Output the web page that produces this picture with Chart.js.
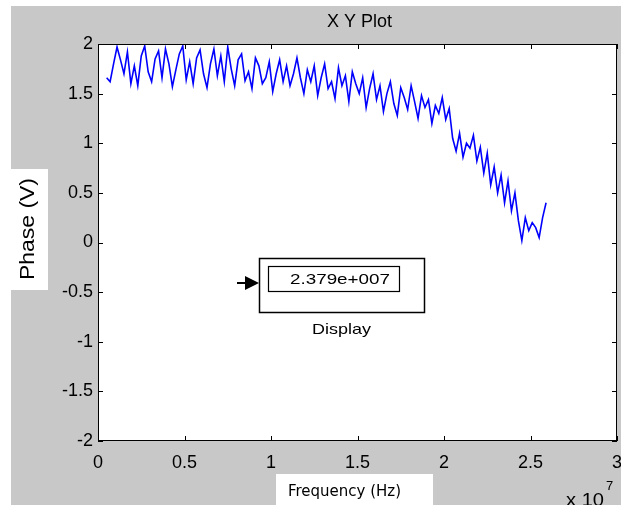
<!DOCTYPE html>
<html>
<head>
<meta charset="utf-8">
<title>X Y Plot</title>
<script src="https://cdn.jsdelivr.net/npm/chart.js@4.4.1/dist/chart.umd.min.js"></script>
<style>
  body { margin: 0; background: #ffffff; }
  canvas { display: block; }
</style>
</head>
<body>
<canvas id="myChart" width="621" height="505"></canvas>
<script>
// frequency in units of 1e7 Hz (axis shows "x 10^7")
const freq = [
  0.05,0.07,0.09,0.11,0.13,0.15,0.17,0.19,0.21,0.23,
  0.25,0.27,0.29,0.31,0.33,0.35,0.37,0.39,0.41,0.43,
  0.45,0.47,0.49,0.51,0.53,0.55,0.57,0.59,0.61,0.63,
  0.65,0.67,0.69,0.71,0.73,0.75,0.77,0.79,0.81,0.83,
  0.85,0.87,0.89,0.91,0.93,0.95,0.97,0.99,1.01,1.03,
  1.05,1.07,1.09,1.11,1.13,1.15,1.17,1.19,1.21,1.23,
  1.25,1.27,1.29,1.31,1.33,1.35,1.37,1.39,1.41,1.43,
  1.45,1.47,1.49,1.51,1.53,1.55,1.57,1.59,1.61,1.63,
  1.65,1.67,1.69,1.71,1.73,1.75,1.77,1.79,1.81,1.83,
  1.85,1.87,1.89,1.91,1.93,1.95,1.97,1.99,2.01,2.03,
  2.05,2.07,2.09,2.11,2.13,2.15,2.17,2.19,2.21,2.23,
  2.25,2.27,2.29,2.31,2.33,2.35,2.37,2.39,2.41,2.43,
  2.45,2.47,2.49,2.51,2.53,2.55,2.57,2.59
];

const phase = [
  1.66,1.62,1.80,1.97,1.84,1.70,1.92,1.60,1.78,1.58,
  1.88,1.98,1.72,1.62,1.85,1.93,1.66,1.95,1.80,1.57,
  1.74,1.90,1.98,1.64,1.82,1.60,1.86,1.94,1.70,1.56,
  1.80,1.95,1.68,1.88,1.62,1.97,1.75,1.58,1.84,1.90,
  1.63,1.72,1.55,1.86,1.78,1.60,1.66,1.82,1.52,1.70,
  1.84,1.62,1.78,1.58,1.70,1.86,1.66,1.50,1.74,1.62,
  1.78,1.48,1.66,1.80,1.55,1.62,1.45,1.76,1.58,1.68,
  1.42,1.72,1.60,1.50,1.66,1.36,1.55,1.70,1.44,1.58,
  1.32,1.50,1.62,1.40,1.28,1.56,1.46,1.34,1.58,1.42,
  1.25,1.48,1.36,1.44,1.20,1.38,1.30,1.46,1.24,1.35,
  1.05,0.92,1.10,0.86,1.00,0.95,1.08,0.82,0.96,0.70,
  0.90,0.58,0.76,0.50,0.68,0.40,0.62,0.32,0.50,0.22,
  0.02,0.25,0.12,0.20,0.15,0.05,0.25,0.40
];

const xTicks = [0, 0.5, 1, 1.5, 2, 2.5, 3];
const yTicks = [-2, -1.5, -1, -0.5, 0, 0.5, 1, 1.5, 2];

const titleText = "X Y Plot";
const xLabel = "Frequency (Hz)";
const yLabel = "Phase (V)";
const displayValue = "2.379e+007";

const GRAY = "#c8c8c8";

// draw text stretched/squeezed to a given width
let fitText = (ctx, text, x, y, w) => {
  let m = ctx.measureText(text).width;
  ctx.save();
  ctx.translate(x, y);
  ctx.scale(w / m, 1);
  ctx.textAlign = "left";
  ctx.fillText(text, 0, 0);
  ctx.restore();
};

const backdrop = {
  id: "backdrop",
  beforeDraw: (chart) => {
    const ctx = chart.ctx;
    const a = chart.chartArea;
    ctx.save();
    ctx.fillStyle = "#ffffff";
    ctx.fillRect(0, 0, chart.width, chart.height);
    ctx.fillStyle = GRAY;
    ctx.fillRect(11, 6, chart.width - 11, chart.height - 6);
    ctx.fillStyle = "#ffffff";
    ctx.fillRect(a.left, a.top, a.right - a.left, a.bottom - a.top);
    ctx.restore();
  },
  afterDraw: (chart) => {
    const ctx = chart.ctx;
    const a = chart.chartArea;
    const xs = chart.scales.x;
    const ys = chart.scales.y;
    ctx.save();

    // box and inward ticks (matlab style)
    ctx.strokeStyle = "#000000";
    ctx.lineWidth = 1;
    ctx.strokeRect(a.left + 0.5, a.top + 0.5, a.right - a.left - 1, a.bottom - a.top - 1);
    ctx.beginPath();
    xTicks.forEach((t) => {
      let px = Math.round(xs.getPixelForValue(t)) + 0.5;
      ctx.moveTo(px, a.bottom); ctx.lineTo(px, a.bottom - 5);
      ctx.moveTo(px, a.top); ctx.lineTo(px, a.top + 5);
    });
    yTicks.forEach((t) => {
      let py = Math.round(ys.getPixelForValue(t)) + 0.5;
      ctx.moveTo(a.left, py); ctx.lineTo(a.left + 5, py);
      ctx.moveTo(a.right, py); ctx.lineTo(a.right - 5, py);
    });
    ctx.stroke();

    // title
    ctx.fillStyle = "#000000";
    ctx.font = "18px 'Liberation Sans', Arial, sans-serif";
    ctx.textBaseline = "alphabetic";
    fitText(ctx, titleText, 327, 27, 65);

    // y label in white box
    ctx.fillStyle = "#ffffff";
    ctx.fillRect(11, 169, 37, 121);
    ctx.fillStyle = "#000000";
    ctx.font = "21px 'Liberation Sans', Arial, sans-serif";
    ctx.save();
    ctx.translate(34, 280);
    ctx.rotate(-Math.PI / 2);
    fitText(ctx, yLabel, 0, 0, 102);
    ctx.restore();

    // x label in white box
    ctx.fillStyle = "#ffffff";
    ctx.fillRect(276, 474, 157, 31);
    ctx.fillStyle = "#000000";
    ctx.font = "15px 'DejaVu Sans', sans-serif";
    fitText(ctx, xLabel, 288, 496, 113);

    // exponent
    ctx.font = "18px 'Liberation Sans', Arial, sans-serif";
    fitText(ctx, "x 10", 566, 506, 38);
    ctx.font = "13px 'Liberation Sans', Arial, sans-serif";
    ctx.fillText("7", 606, 490);

    // simulink display block
    ctx.strokeStyle = "#000000";
    ctx.lineWidth = 1.5;
    ctx.strokeRect(259.5, 258.5, 165, 54);
    ctx.lineWidth = 1.2;
    ctx.strokeRect(268.5, 266.5, 131, 25);
    ctx.beginPath();
    ctx.moveTo(237, 283); ctx.lineTo(248, 283);
    ctx.lineWidth = 2;
    ctx.stroke();
    ctx.beginPath();
    ctx.moveTo(245, 276); ctx.lineTo(259, 283); ctx.lineTo(245, 290);
    ctx.closePath();
    ctx.fillStyle = "#000000";
    ctx.fill();
    ctx.font = "15px 'Liberation Sans', Arial, sans-serif";
    fitText(ctx, displayValue, 290, 284, 100);
    fitText(ctx, "Display", 312, 334, 59);

    ctx.restore();
  }
};

let plot = () => {
  const ctx = document.getElementById("myChart");
  const points = freq.map((f, i) => ({ x: f, y: phase[i] }));
  const dataset = {
    datasets: [{
      data: points,
      borderColor: "#0000ff",
      borderWidth: 1.6,
      pointRadius: 0,
      fill: false,
      tension: 0
    }]
  };
  const config = {
    type: "line",
    data: dataset,
    options: {
      responsive: false,
      animation: false,
      layout: { padding: { left: 0, top: 44, right: 4, bottom: 0 } },
      plugins: { legend: { display: false }, tooltip: { enabled: false } },
      scales: {
        x: {
          type: "linear",
          min: 0,
          max: 3,
          afterBuildTicks: (s) => { s.ticks = xTicks.map((v) => ({ value: v })); },
          afterFit: (s) => { s.height = 64; s.paddingLeft = 0; s.paddingRight = 0; },
          grid: { display: false, drawTicks: false },
          border: { display: false },
          ticks: {
            color: "#000000",
            padding: 11,
            maxRotation: 0,
            autoSkip: false,
            callback: (v) => String(v),
            font: { family: "'Liberation Sans', Arial, sans-serif", size: 18 }
          }
        },
        y: {
          min: -2,
          max: 2,
          afterBuildTicks: (s) => { s.ticks = yTicks.map((v) => ({ value: v })); },
          afterFit: (s) => { s.width = 98; s.paddingTop = 0; s.paddingBottom = 0; },
          grid: { display: false, drawTicks: false },
          border: { display: false },
          ticks: {
            color: "#000000",
            padding: 5,
            autoSkip: false,
            callback: (v) => String(v),
            font: { family: "'Liberation Sans', Arial, sans-serif", size: 18 }
          }
        }
      }
    },
    plugins: [backdrop]
  };
  new Chart(ctx, config);
};

plot();
</script>
</body>
</html>
